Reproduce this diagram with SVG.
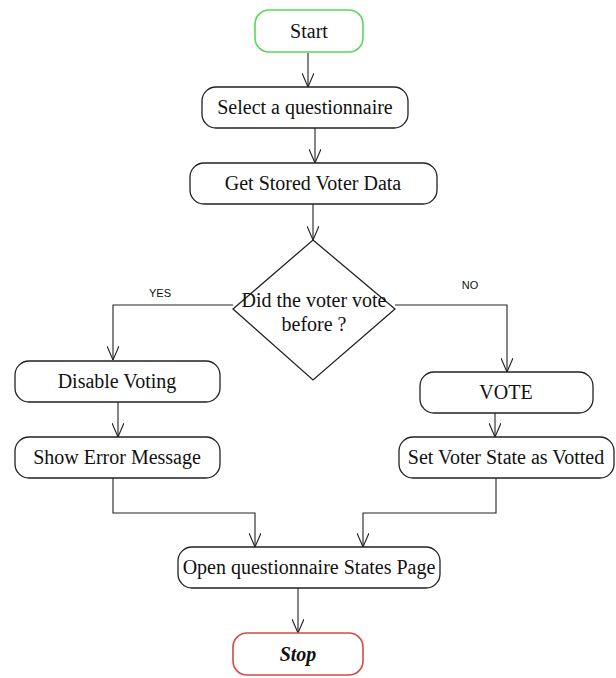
<svg xmlns="http://www.w3.org/2000/svg" width="616" height="678" viewBox="0 0 616 678">
<style>
.box{fill:#fff;stroke:#222;stroke-width:1.3}
.t{font-family:"Liberation Serif","Times New Roman",serif;font-size:20px;fill:#111;text-anchor:middle}
.lbl{font-family:"Liberation Sans",Arial,sans-serif;font-size:11px;fill:#111;text-anchor:middle}
.c{fill:none;stroke:#222;stroke-width:1.1;marker-end:url(#ah)}
</style>
<defs>
<marker id="ah" viewBox="0 0 14 12" refX="14" refY="6" markerWidth="14" markerHeight="12" markerUnits="userSpaceOnUse" orient="auto">
<polyline points="0,0 14,6 0,12" fill="none" stroke="#222" stroke-width="1.1"/>
</marker>
</defs>
<rect width="616" height="678" fill="#fff"/>
<g id="connectors">
<path class="c" d="M308,53 V87"/>
<path class="c" d="M315,128 V163"/>
<path class="c" d="M313,204 V240"/>
<path class="c" d="M233,305 H113 V360"/>
<path class="c" d="M395,305 H507 V372"/>
<path class="c" d="M118,402 V437"/>
<path class="c" d="M495,413 V437"/>
<path class="c" d="M113,478 V513 H255 V547"/>
<path class="c" d="M496,478 V513 H363 V547"/>
<path class="c" d="M298,588 V633"/>
</g>
<g id="start"><rect class="box" x="255" y="10" width="108" height="42" rx="14" style="stroke:#5ad85a;stroke-width:1.6"/><text class="t" x="309" y="38">Start</text></g>
<g id="select"><rect class="box" x="202" y="87" width="206" height="41" rx="14"/><text class="t" x="305" y="114">Select a questionnaire</text></g>
<g id="getstored"><rect class="box" x="190" y="163" width="247" height="41" rx="14"/><text class="t" x="313" y="190">Get Stored Voter Data</text></g>
<g id="decision"><polygon class="box" points="313,240 395,309 313,380 233,309"/><text class="t" x="314" y="307">Did the voter vote</text><text class="t" x="314" y="331">before ?</text></g>
<g id="labels"><text class="lbl" x="160" y="297">YES</text><text class="lbl" x="470" y="289">NO</text></g>
<g id="disable"><rect class="box" x="15" y="361" width="205" height="41" rx="14"/><text class="t" x="117" y="388">Disable Voting</text></g>
<g id="showerror"><rect class="box" x="15" y="437" width="205" height="41" rx="14"/><text class="t" x="117" y="464">Show Error Message</text></g>
<g id="vote"><rect class="box" x="420" y="372" width="173" height="41" rx="14"/><text class="t" x="506" y="399">VOTE</text></g>
<g id="setvoter"><rect class="box" x="399" y="437" width="215" height="41" rx="14"/><text class="t" x="506" y="464">Set Voter State as Votted</text></g>
<g id="openpage"><rect class="box" x="178" y="547" width="262" height="41" rx="14"/><text class="t" x="309" y="574">Open questionnaire States Page</text></g>
<g id="stop"><rect class="box" x="233" y="633" width="130" height="42" rx="14" style="stroke:#d84848;stroke-width:1.6"/><text class="t" x="298" y="661" style="font-weight:bold;font-style:italic">Stop</text></g>
</svg>
